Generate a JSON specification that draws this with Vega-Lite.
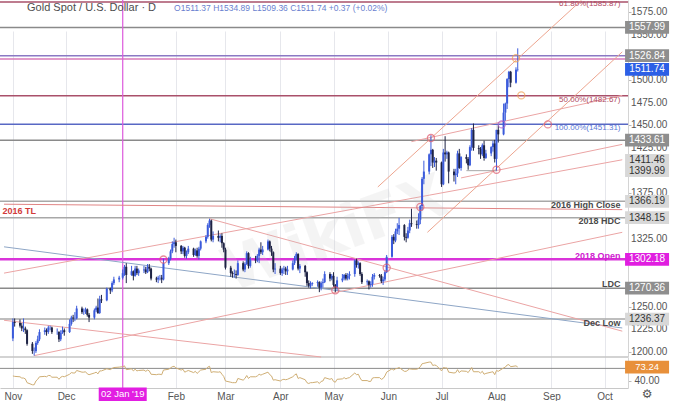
{
"$schema":"https://vega.github.io/schema/vega-lite/v6.json",
"width":628,"height":388,
"autosize":{"type":"none"},
"padding":{"left":0,"top":0,"right":52,"bottom":13},
"background":"white",
"config":{"view":{"stroke":null},"font":"Liberation Sans"},
"datasets":{
"ohlc":[
{"d":"2018-11-01","o":1215,"h":1237,"l":1212,"c":1233,"r":52},
{"d":"2018-11-02","o":1233,"h":1237,"l":1228,"c":1232,"r":51},
{"d":"2018-11-05","o":1232,"h":1236,"l":1227,"c":1229,"r":50},
{"d":"2018-11-06","o":1229,"h":1232,"l":1223,"c":1226,"r":47},
{"d":"2018-11-07","o":1226,"h":1237,"l":1222,"c":1226,"r":47},
{"d":"2018-11-08","o":1226,"h":1228,"l":1220,"c":1224,"r":45},
{"d":"2018-11-09","o":1224,"h":1225,"l":1207,"c":1209,"r":36},
{"d":"2018-11-12","o":1209,"h":1211,"l":1198,"c":1201,"r":31},
{"d":"2018-11-13","o":1201,"h":1205,"l":1196,"c":1201,"r":31},
{"d":"2018-11-14","o":1201,"h":1212,"l":1199,"c":1210,"r":40},
{"d":"2018-11-15","o":1210,"h":1218,"l":1208,"c":1214,"r":44},
{"d":"2018-11-16","o":1214,"h":1225,"l":1212,"c":1222,"r":50},
{"d":"2018-11-19","o":1222,"h":1227,"l":1219,"c":1224,"r":51},
{"d":"2018-11-20","o":1224,"h":1226,"l":1218,"c":1222,"r":50},
{"d":"2018-11-21","o":1222,"h":1229,"l":1220,"c":1227,"r":53},
{"d":"2018-11-22","o":1227,"h":1229,"l":1224,"c":1227,"r":53},
{"d":"2018-11-23","o":1227,"h":1228,"l":1220,"c":1222,"r":49},
{"d":"2018-11-26","o":1222,"h":1226,"l":1219,"c":1222,"r":49},
{"d":"2018-11-27","o":1222,"h":1223,"l":1211,"c":1214,"r":44},
{"d":"2018-11-28","o":1214,"h":1224,"l":1212,"c":1221,"r":49},
{"d":"2018-11-29","o":1221,"h":1228,"l":1220,"c":1224,"r":51},
{"d":"2018-11-30","o":1224,"h":1226,"l":1218,"c":1222,"r":50},
{"d":"2018-12-03","o":1222,"h":1236,"l":1221,"c":1231,"r":56},
{"d":"2018-12-04","o":1231,"h":1240,"l":1229,"c":1238,"r":60},
{"d":"2018-12-05","o":1238,"h":1241,"l":1233,"c":1237,"r":59},
{"d":"2018-12-06","o":1237,"h":1244,"l":1234,"c":1237,"r":59},
{"d":"2018-12-07","o":1237,"h":1251,"l":1236,"c":1248,"r":65},
{"d":"2018-12-10","o":1248,"h":1250,"l":1242,"c":1244,"r":61},
{"d":"2018-12-11","o":1244,"h":1248,"l":1241,"c":1244,"r":61},
{"d":"2018-12-12","o":1244,"h":1249,"l":1242,"c":1247,"r":62},
{"d":"2018-12-13","o":1247,"h":1248,"l":1239,"c":1241,"r":57},
{"d":"2018-12-14","o":1241,"h":1243,"l":1233,"c":1238,"r":55},
{"d":"2018-12-17","o":1238,"h":1248,"l":1236,"c":1246,"r":59},
{"d":"2018-12-18","o":1246,"h":1251,"l":1244,"c":1249,"r":61},
{"d":"2018-12-19","o":1249,"h":1259,"l":1242,"c":1243,"r":57},
{"d":"2018-12-20","o":1243,"h":1262,"l":1242,"c":1258,"r":64},
{"d":"2018-12-21","o":1258,"h":1263,"l":1254,"c":1257,"r":64},
{"d":"2018-12-24","o":1257,"h":1271,"l":1256,"c":1270,"r":69},
{"d":"2018-12-26","o":1270,"h":1271,"l":1264,"c":1268,"r":67},
{"d":"2018-12-27","o":1268,"h":1278,"l":1266,"c":1276,"r":70},
{"d":"2018-12-28","o":1276,"h":1283,"l":1274,"c":1280,"r":72},
{"d":"2018-12-31","o":1280,"h":1284,"l":1277,"c":1282,"r":73},
{"d":"2019-01-02","o":1282,"h":1291,"l":1280,"c":1287,"r":74},
{"d":"2019-01-03","o":1287,"h":1296,"l":1284,"c":1294,"r":76},
{"d":"2019-01-04","o":1294,"h":1298,"l":1276,"c":1285,"r":67},
{"d":"2019-01-07","o":1285,"h":1295,"l":1284,"c":1289,"r":69},
{"d":"2019-01-08","o":1289,"h":1290,"l":1279,"c":1284,"r":64},
{"d":"2019-01-09","o":1284,"h":1295,"l":1283,"c":1292,"r":68},
{"d":"2019-01-10","o":1292,"h":1295,"l":1285,"c":1287,"r":64},
{"d":"2019-01-11","o":1287,"h":1292,"l":1284,"c":1290,"r":65},
{"d":"2019-01-14","o":1290,"h":1295,"l":1287,"c":1291,"r":66},
{"d":"2019-01-15","o":1291,"h":1294,"l":1286,"c":1288,"r":63},
{"d":"2019-01-16","o":1288,"h":1297,"l":1287,"c":1294,"r":66},
{"d":"2019-01-17","o":1294,"h":1297,"l":1289,"c":1292,"r":64},
{"d":"2019-01-18","o":1292,"h":1293,"l":1279,"c":1281,"r":56},
{"d":"2019-01-21","o":1281,"h":1283,"l":1277,"c":1280,"r":55},
{"d":"2019-01-22","o":1280,"h":1284,"l":1276,"c":1282,"r":56},
{"d":"2019-01-23","o":1282,"h":1285,"l":1279,"c":1282,"r":56},
{"d":"2019-01-24","o":1282,"h":1285,"l":1276,"c":1280,"r":55},
{"d":"2019-01-25","o":1280,"h":1303,"l":1279,"c":1298,"r":66},
{"d":"2019-01-28","o":1298,"h":1305,"l":1296,"c":1303,"r":68},
{"d":"2019-01-29","o":1303,"h":1313,"l":1301,"c":1311,"r":71},
{"d":"2019-01-30","o":1311,"h":1322,"l":1309,"c":1319,"r":74},
{"d":"2019-01-31","o":1319,"h":1326,"l":1315,"c":1321,"r":75},
{"d":"2019-02-01","o":1321,"h":1324,"l":1310,"c":1317,"r":71},
{"d":"2019-02-04","o":1317,"h":1318,"l":1308,"c":1311,"r":66},
{"d":"2019-02-05","o":1311,"h":1317,"l":1308,"c":1315,"r":68},
{"d":"2019-02-06","o":1315,"h":1316,"l":1304,"c":1306,"r":61},
{"d":"2019-02-07","o":1306,"h":1312,"l":1303,"c":1310,"r":63},
{"d":"2019-02-08","o":1310,"h":1317,"l":1308,"c":1314,"r":65},
{"d":"2019-02-11","o":1314,"h":1315,"l":1305,"c":1307,"r":60},
{"d":"2019-02-12","o":1307,"h":1314,"l":1306,"c":1312,"r":63},
{"d":"2019-02-13","o":1312,"h":1315,"l":1304,"c":1306,"r":58},
{"d":"2019-02-14","o":1306,"h":1316,"l":1302,"c":1314,"r":62},
{"d":"2019-02-15","o":1314,"h":1323,"l":1312,"c":1322,"r":66},
{"d":"2019-02-18","o":1322,"h":1329,"l":1320,"c":1327,"r":68},
{"d":"2019-02-19","o":1327,"h":1342,"l":1325,"c":1340,"r":73},
{"d":"2019-02-20","o":1340,"h":1347,"l":1337,"c":1345,"r":75},
{"d":"2019-02-21","o":1345,"h":1346,"l":1322,"c":1324,"r":60},
{"d":"2019-02-22","o":1324,"h":1333,"l":1321,"c":1328,"r":62},
{"d":"2019-02-25","o":1328,"h":1334,"l":1322,"c":1326,"r":61},
{"d":"2019-02-26","o":1326,"h":1330,"l":1321,"c":1328,"r":62},
{"d":"2019-02-27","o":1328,"h":1331,"l":1315,"c":1320,"r":56},
{"d":"2019-02-28","o":1320,"h":1321,"l":1310,"c":1313,"r":51},
{"d":"2019-03-01","o":1313,"h":1315,"l":1291,"c":1293,"r":40},
{"d":"2019-03-04","o":1293,"h":1295,"l":1283,"c":1287,"r":37},
{"d":"2019-03-05","o":1287,"h":1289,"l":1282,"c":1286,"r":36},
{"d":"2019-03-06","o":1286,"h":1291,"l":1282,"c":1286,"r":36},
{"d":"2019-03-07","o":1286,"h":1290,"l":1281,"c":1285,"r":36},
{"d":"2019-03-08","o":1285,"h":1301,"l":1284,"c":1298,"r":46},
{"d":"2019-03-11","o":1298,"h":1300,"l":1289,"c":1291,"r":42},
{"d":"2019-03-12","o":1291,"h":1299,"l":1288,"c":1297,"r":46},
{"d":"2019-03-13","o":1297,"h":1311,"l":1296,"c":1309,"r":53},
{"d":"2019-03-14","o":1309,"h":1310,"l":1292,"c":1295,"r":46},
{"d":"2019-03-15","o":1295,"h":1305,"l":1293,"c":1302,"r":50},
{"d":"2019-03-18","o":1302,"h":1306,"l":1298,"c":1301,"r":50},
{"d":"2019-03-19","o":1301,"h":1308,"l":1299,"c":1306,"r":52},
{"d":"2019-03-20","o":1306,"h":1315,"l":1298,"c":1313,"r":56},
{"d":"2019-03-21","o":1313,"h":1321,"l":1308,"c":1310,"r":54},
{"d":"2019-03-22","o":1310,"h":1317,"l":1307,"c":1313,"r":56},
{"d":"2019-03-25","o":1313,"h":1324,"l":1312,"c":1322,"r":61},
{"d":"2019-03-26","o":1322,"h":1323,"l":1311,"c":1314,"r":55},
{"d":"2019-03-27","o":1314,"h":1317,"l":1306,"c":1310,"r":52},
{"d":"2019-03-28","o":1310,"h":1311,"l":1288,"c":1291,"r":42},
{"d":"2019-03-29","o":1291,"h":1298,"l":1286,"c":1292,"r":43},
{"d":"2019-04-01","o":1292,"h":1295,"l":1285,"c":1287,"r":40},
{"d":"2019-04-02","o":1287,"h":1293,"l":1284,"c":1291,"r":43},
{"d":"2019-04-03","o":1291,"h":1295,"l":1286,"c":1292,"r":44},
{"d":"2019-04-04","o":1292,"h":1294,"l":1285,"c":1289,"r":43},
{"d":"2019-04-05","o":1289,"h":1295,"l":1285,"c":1291,"r":44},
{"d":"2019-04-08","o":1291,"h":1301,"l":1290,"c":1298,"r":50},
{"d":"2019-04-09","o":1298,"h":1306,"l":1296,"c":1303,"r":54},
{"d":"2019-04-10","o":1303,"h":1310,"l":1301,"c":1308,"r":57},
{"d":"2019-04-11","o":1308,"h":1309,"l":1290,"c":1292,"r":46},
{"d":"2019-04-12","o":1292,"h":1297,"l":1287,"c":1295,"r":48},
{"d":"2019-04-15","o":1295,"h":1296,"l":1283,"c":1288,"r":43},
{"d":"2019-04-16","o":1288,"h":1289,"l":1273,"c":1276,"r":36},
{"d":"2019-04-17","o":1276,"h":1279,"l":1271,"c":1273,"r":34},
{"d":"2019-04-18","o":1273,"h":1278,"l":1270,"c":1275,"r":36},
{"d":"2019-04-19","o":1275,"h":1277,"l":1273,"c":1276,"r":36},
{"d":"2019-04-22","o":1276,"h":1279,"l":1272,"c":1277,"r":38},
{"d":"2019-04-23","o":1277,"h":1278,"l":1266,"c":1271,"r":34},
{"d":"2019-04-24","o":1271,"h":1278,"l":1268,"c":1276,"r":39},
{"d":"2019-04-25","o":1276,"h":1281,"l":1271,"c":1277,"r":40},
{"d":"2019-04-26","o":1277,"h":1289,"l":1276,"c":1286,"r":48},
{"d":"2019-04-29","o":1286,"h":1288,"l":1278,"c":1281,"r":44},
{"d":"2019-04-30","o":1281,"h":1286,"l":1279,"c":1284,"r":46},
{"d":"2019-05-01","o":1284,"h":1288,"l":1272,"c":1274,"r":39},
{"d":"2019-05-02","o":1274,"h":1275,"l":1266,"c":1271,"r":37},
{"d":"2019-05-03","o":1271,"h":1283,"l":1268,"c":1279,"r":44},
{"d":"2019-05-06","o":1279,"h":1286,"l":1277,"c":1281,"r":45},
{"d":"2019-05-07","o":1281,"h":1286,"l":1279,"c":1285,"r":48},
{"d":"2019-05-08","o":1285,"h":1287,"l":1279,"c":1281,"r":45},
{"d":"2019-05-09","o":1281,"h":1287,"l":1279,"c":1284,"r":47},
{"d":"2019-05-10","o":1284,"h":1289,"l":1280,"c":1286,"r":48},
{"d":"2019-05-13","o":1286,"h":1302,"l":1283,"c":1301,"r":59},
{"d":"2019-05-14","o":1301,"h":1303,"l":1293,"c":1296,"r":55},
{"d":"2019-05-15","o":1296,"h":1300,"l":1292,"c":1298,"r":56},
{"d":"2019-05-16","o":1298,"h":1299,"l":1284,"c":1286,"r":47},
{"d":"2019-05-17","o":1286,"h":1288,"l":1275,"c":1277,"r":41},
{"d":"2019-05-20","o":1277,"h":1280,"l":1274,"c":1278,"r":41},
{"d":"2019-05-21","o":1278,"h":1279,"l":1269,"c":1274,"r":39},
{"d":"2019-05-22","o":1274,"h":1278,"l":1271,"c":1275,"r":39},
{"d":"2019-05-23","o":1275,"h":1286,"l":1272,"c":1283,"r":47},
{"d":"2019-05-24","o":1283,"h":1287,"l":1280,"c":1285,"r":48},
{"d":"2019-05-27","o":1285,"h":1286,"l":1282,"c":1284,"r":48},
{"d":"2019-05-28","o":1284,"h":1286,"l":1276,"c":1278,"r":44},
{"d":"2019-05-29","o":1278,"h":1283,"l":1274,"c":1280,"r":46},
{"d":"2019-05-30","o":1280,"h":1290,"l":1278,"c":1288,"r":52},
{"d":"2019-05-31","o":1288,"h":1307,"l":1287,"c":1305,"r":61},
{"d":"2019-06-03","o":1305,"h":1329,"l":1304,"c":1327,"r":69},
{"d":"2019-06-04","o":1327,"h":1330,"l":1319,"c":1323,"r":66},
{"d":"2019-06-05","o":1323,"h":1336,"l":1321,"c":1333,"r":69},
{"d":"2019-06-06","o":1333,"h":1342,"l":1330,"c":1336,"r":70},
{"d":"2019-06-07","o":1336,"h":1348,"l":1329,"c":1340,"r":72},
{"d":"2019-06-10","o":1340,"h":1341,"l":1323,"c":1327,"r":63},
{"d":"2019-06-11","o":1327,"h":1331,"l":1321,"c":1326,"r":63},
{"d":"2019-06-12","o":1326,"h":1338,"l":1325,"c":1334,"r":66},
{"d":"2019-06-13","o":1334,"h":1346,"l":1331,"c":1342,"r":69},
{"d":"2019-06-14","o":1342,"h":1358,"l":1338,"c":1341,"r":68},
{"d":"2019-06-17","o":1341,"h":1345,"l":1336,"c":1340,"r":68},
{"d":"2019-06-18","o":1340,"h":1353,"l":1336,"c":1346,"r":70},
{"d":"2019-06-19","o":1346,"h":1362,"l":1341,"c":1361,"r":74},
{"d":"2019-06-20","o":1361,"h":1393,"l":1356,"c":1391,"r":81},
{"d":"2019-06-21","o":1391,"h":1411,"l":1385,"c":1399,"r":82},
{"d":"2019-06-24","o":1399,"h":1419,"l":1396,"c":1418,"r":85},
{"d":"2019-06-25","o":1418,"h":1439,"l":1405,"c":1423,"r":85},
{"d":"2019-06-26","o":1423,"h":1424,"l":1403,"c":1409,"r":77},
{"d":"2019-06-27","o":1409,"h":1415,"l":1404,"c":1411,"r":78},
{"d":"2019-06-28","o":1411,"h":1414,"l":1400,"c":1409,"r":77},
{"d":"2019-07-01","o":1409,"h":1410,"l":1382,"c":1385,"r":64},
{"d":"2019-07-02","o":1385,"h":1424,"l":1384,"c":1420,"r":72},
{"d":"2019-07-03","o":1420,"h":1438,"l":1410,"c":1418,"r":71},
{"d":"2019-07-04","o":1418,"h":1422,"l":1413,"c":1420,"r":71},
{"d":"2019-07-05","o":1420,"h":1421,"l":1386,"c":1399,"r":61},
{"d":"2019-07-08","o":1399,"h":1402,"l":1388,"c":1395,"r":59},
{"d":"2019-07-09","o":1395,"h":1402,"l":1385,"c":1397,"r":60},
{"d":"2019-07-10","o":1397,"h":1422,"l":1393,"c":1419,"r":67},
{"d":"2019-07-11","o":1419,"h":1424,"l":1402,"c":1403,"r":60},
{"d":"2019-07-12","o":1403,"h":1416,"l":1400,"c":1415,"r":64},
{"d":"2019-07-15","o":1415,"h":1418,"l":1408,"c":1413,"r":63},
{"d":"2019-07-16","o":1413,"h":1415,"l":1401,"c":1406,"r":60},
{"d":"2019-07-17","o":1406,"h":1428,"l":1405,"c":1426,"r":66},
{"d":"2019-07-18","o":1426,"h":1447,"l":1422,"c":1445,"r":72},
{"d":"2019-07-19","o":1445,"h":1452,"l":1422,"c":1425,"r":62},
{"d":"2019-07-22","o":1425,"h":1428,"l":1418,"c":1424,"r":62},
{"d":"2019-07-23","o":1424,"h":1426,"l":1413,"c":1418,"r":59},
{"d":"2019-07-24","o":1418,"h":1430,"l":1416,"c":1428,"r":63},
{"d":"2019-07-25","o":1428,"h":1433,"l":1411,"c":1414,"r":56},
{"d":"2019-07-26","o":1414,"h":1423,"l":1413,"c":1419,"r":58},
{"d":"2019-07-29","o":1419,"h":1427,"l":1416,"c":1426,"r":61},
{"d":"2019-07-30","o":1426,"h":1433,"l":1421,"c":1430,"r":62},
{"d":"2019-07-31","o":1430,"h":1434,"l":1409,"c":1413,"r":55},
{"d":"2019-08-01","o":1413,"h":1445,"l":1400,"c":1445,"r":65},
{"d":"2019-08-02","o":1445,"h":1450,"l":1431,"c":1440,"r":63},
{"d":"2019-08-05","o":1440,"h":1474,"l":1439,"c":1464,"r":71},
{"d":"2019-08-06","o":1464,"h":1475,"l":1455,"c":1474,"r":73},
{"d":"2019-08-07","o":1474,"h":1502,"l":1468,"c":1501,"r":78},
{"d":"2019-08-08","o":1501,"h":1510,"l":1492,"c":1509,"r":79},
{"d":"2019-08-09","o":1509,"h":1510,"l":1492,"c":1497,"r":74},
{"d":"2019-08-12","o":1497,"h":1514,"l":1496,"c":1511.37,"r":76},
{"d":"2019-08-13","o":1511.37,"h":1534.89,"l":1509.36,"c":1511.74,"r":73.24}
]
},
"layer":[
{
"resolve":{"scale":{"color":"independent","fill":"independent","stroke":"independent","size":"independent"}},
"layer":[
{"data":{"values":[
{"p":1585.87,"k":"fib"},{"p":1557.99,"k":"level"},{"p":1526.84,"k":"purple"},{"p":1523,"k":"pink"},
{"p":1482.67,"k":"fib"},{"p":1451.31,"k":"blue"},{"p":1433.61,"k":"level"},{"p":1366.19,"k":"minor"},
{"p":1348.15,"k":"minor"},{"p":1270.36,"k":"level"},{"p":1236.37,"k":"minor"},{"p":1194.5,"k":"border"}]},
"mark":{"type":"rule","strokeWidth":1.5},
"encoding":{
"y":{"field":"p","type":"quantitative","title":null,"scale":{"domain":[1194.5,1588.2],"range":[357,0],"zero":false,"nice":false},
"axis":{"orient":"right","values":[1200,1225,1250,1325,1375,1425,1450,1475,1500,1550,1575],"labels":false,"grid":false,"ticks":true,"tickSize":3,"tickColor":"#bbbbbb","domainColor":"#d4d4d4","title":null}},
"color":{"field":"k","type":"nominal","legend":null,"scale":{"domain":["fib","level","purple","pink","blue","minor","border"],"range":["#a9506a","#8a8a8a","#8b79c4","#d77ab8","#5868c4","#a8a8a8","#c4c4c4"]}}
}},
{"data":{"values":[{"p":1302.18}]},
"mark":{"type":"rule","strokeWidth":2.5,"color":"#d934d9"},
"encoding":{"y":{"field":"p","type":"quantitative","title":null,"scale":{"domain":[1194.5,1588.2],"range":[357,0],"zero":false,"nice":false}}}},
{"data":{"values":[{"d":"2019-01-02"}]},
"mark":{"type":"rule","strokeWidth":1.2,"color":"#dc5adc"},
"encoding":{"x":{"field":"d","type":"temporal","title":null,"scale":{"type":"utc","domain":[{"year":2018,"month":10,"date":27,"hours":13,"utc":true},{"year":2019,"month":10,"date":11,"hours":10,"utc":true}]},
"axis":{"values":[{"year":2018,"month":11,"date":1,"utc":true},{"year":2018,"month":12,"date":1,"utc":true},{"year":2019,"month":2,"date":1,"utc":true},{"year":2019,"month":3,"date":1,"utc":true},{"year":2019,"month":4,"date":1,"utc":true},{"year":2019,"month":5,"date":1,"utc":true},{"year":2019,"month":6,"date":1,"utc":true},{"year":2019,"month":7,"date":1,"utc":true},{"year":2019,"month":8,"date":1,"utc":true},{"year":2019,"month":9,"date":1,"utc":true},{"year":2019,"month":10,"date":1,"utc":true}],
"format":"%b","labelFontSize":10,"labelColor":"#555555","grid":true,"gridColor":"#e6e7ec","ticks":false,"domain":true,"domainColor":"#c8c8c8","labelPadding":3,"labelOverlap":false,"labelFlush":false,"title":null}}}},
{"data":{"values":[
{"d1":"2018-10-27","p1":1316,"d2":"2019-10-11","p2":1226.5,"k":"steel"},
{"d1":"2019-02-20","p1":1347,"d2":"2019-10-11","p2":1223,"k":"pink"},
{"d1":"2018-10-27","p1":1235,"d2":"2019-04-24","p2":1194.5,"k":"pink"},
{"d1":"2018-11-13","p1":1196,"d2":"2019-10-11","p2":1332,"k":"pink"},
{"d1":"2018-10-27","p1":1287,"d2":"2019-10-11","p2":1412,"k":"pink"},
{"d1":"2019-06-14","p1":1432,"d2":"2019-10-11","p2":1483,"k":"pink"},
{"d1":"2019-07-12","p1":1392,"d2":"2019-10-11","p2":1429,"k":"pink"},
{"d1":"2019-05-26","p1":1382,"d2":"2019-09-18","p2":1588,"k":"orange"},
{"d1":"2019-06-23","p1":1332,"d2":"2019-10-11","p2":1531,"k":"orange"},
{"d1":"2018-10-27","p1":1363,"d2":"2019-10-11","p2":1357,"k":"tl"},
{"d1":"2019-07-15","p1":1400,"d2":"2019-08-01","p2":1400,"k":"level"}],
"format":{"parse":{"d1":"date","d2":"date"}}},
"mark":{"type":"rule","strokeWidth":1,"clip":true},
"encoding":{
"x":{"field":"d1","type":"temporal","title":null,"scale":{"type":"utc","domain":[{"year":2018,"month":10,"date":27,"hours":13,"utc":true},{"year":2019,"month":10,"date":11,"hours":10,"utc":true}]}},
"x2":{"field":"d2"},
"y":{"field":"p1","type":"quantitative","title":null,"scale":{"domain":[1194.5,1588.2],"range":[357,0],"zero":false,"nice":false}},
"y2":{"field":"p2"},
"color":{"field":"k","type":"nominal","legend":null,"scale":{"domain":["steel","pink","orange","tl","level"],"range":["#8ea6c6","#eba4a4","#eda58f","#e08585","#a8a8a8"]}}
}},
{"data":{"values":[{"d":"2019-05-02","p":1329,"t":"WikiFX"}]},
"mark":{"type":"text","fontSize":60,"fontWeight":"bold","angle":340,"color":"#c8c8c8","opacity":0.18,"font":"DejaVu Sans"},
"encoding":{
"x":{"field":"d","type":"temporal","title":null,"scale":{"type":"utc","domain":[{"year":2018,"month":10,"date":27,"hours":13,"utc":true},{"year":2019,"month":10,"date":11,"hours":10,"utc":true}]}},
"y":{"field":"p","type":"quantitative","title":null,"scale":{"domain":[1194.5,1588.2],"range":[357,0],"zero":false,"nice":false}},
"text":{"field":"t"}}},
{"data":{"name":"ohlc"},
"mark":{"type":"rule","strokeWidth":1},
"encoding":{
"x":{"field":"d","type":"temporal","title":null,"scale":{"type":"utc","domain":[{"year":2018,"month":10,"date":27,"hours":13,"utc":true},{"year":2019,"month":10,"date":11,"hours":10,"utc":true}]}},
"y":{"field":"l","type":"quantitative","title":null,"scale":{"domain":[1194.5,1588.2],"range":[357,0],"zero":false,"nice":false}},
"y2":{"field":"h"},
"color":{"condition":{"test":"datum.c >= datum.o","value":"#3b5bdb"},"value":"#1e2344"}}},
{"data":{"name":"ohlc"},
"mark":{"type":"bar","width":2},
"encoding":{
"x":{"field":"d","type":"temporal","title":null,"scale":{"type":"utc","domain":[{"year":2018,"month":10,"date":27,"hours":13,"utc":true},{"year":2019,"month":10,"date":11,"hours":10,"utc":true}]}},
"y":{"field":"o","type":"quantitative","title":null,"scale":{"domain":[1194.5,1588.2],"range":[357,0],"zero":false,"nice":false}},
"y2":{"field":"c"},
"color":{"condition":{"test":"datum.c >= datum.o","value":"#3b5bdb"},"value":"#1e2344"}}},
{"data":{"values":[
{"d":"2019-01-25","p":1302,"k":"red"},{"d":"2019-05-02","p":1268,"k":"red"},{"d":"2019-05-31","p":1293,"k":"red"},
{"d":"2019-06-19","p":1360,"k":"red"},{"d":"2019-06-25","p":1436,"k":"red"},{"d":"2019-08-01","p":1401,"k":"red"},
{"d":"2019-08-04","p":1451,"k":"purple"},{"d":"2019-08-12","p":1524,"k":"orange"},{"d":"2019-08-30","p":1451,"k":"red"},
{"d":"2019-08-15","p":1483,"k":"orange"}]},
"mark":{"type":"point","shape":"circle","filled":false,"size":50,"strokeWidth":1.3},
"encoding":{
"x":{"field":"d","type":"temporal","title":null,"scale":{"type":"utc","domain":[{"year":2018,"month":10,"date":27,"hours":13,"utc":true},{"year":2019,"month":10,"date":11,"hours":10,"utc":true}]}},
"y":{"field":"p","type":"quantitative","title":null,"scale":{"domain":[1194.5,1588.2],"range":[357,0],"zero":false,"nice":false}},
"stroke":{"field":"k","type":"nominal","legend":null,"scale":{"domain":["red","purple","orange"],"range":["#e05a6e","#b05cc8","#f0a050"]}}}},
{"data":{"values":[
{"d":"2019-10-10","p":1583.8,"t":"61.80%(1585.87)","k":"fib"},
{"d":"2019-10-10","p":1477.9,"t":"50.00%(1482.67)","k":"fib"},
{"d":"2019-10-10","p":1447.0,"t":"100.00%(1451.31)","k":"blue"}]},
"mark":{"type":"text","align":"right","fontSize":8},
"encoding":{
"x":{"field":"d","type":"temporal","title":null,"scale":{"type":"utc","domain":[{"year":2018,"month":10,"date":27,"hours":13,"utc":true},{"year":2019,"month":10,"date":11,"hours":10,"utc":true}]}},
"y":{"field":"p","type":"quantitative","title":null,"scale":{"domain":[1194.5,1588.2],"range":[357,0],"zero":false,"nice":false}},
"text":{"field":"t"},
"color":{"field":"k","type":"nominal","legend":null,"scale":{"domain":["fib","blue"],"range":["#b04a62","#5a78d6"]}}}},
{"data":{"values":[
{"d":"2019-10-10","p":1362.1,"t":"2016 High Close","k":"level"},
{"d":"2019-10-10","p":1344.5,"t":"2018 HDC","k":"level"},
{"d":"2019-10-10","p":1305.9,"t":"2018 Open","k":"open"},
{"d":"2019-10-10","p":1275.0,"t":"LDC","k":"level"},
{"d":"2019-10-10","p":1232.0,"t":"Dec Low","k":"level"},
{"d":"2018-11-14","p":1355.5,"t":"2016 TL","k":"tl"}]},
"mark":{"type":"text","align":"right","fontSize":9,"fontWeight":"bold"},
"encoding":{
"x":{"field":"d","type":"temporal","title":null,"scale":{"type":"utc","domain":[{"year":2018,"month":10,"date":27,"hours":13,"utc":true},{"year":2019,"month":10,"date":11,"hours":10,"utc":true}]}},
"y":{"field":"p","type":"quantitative","title":null,"scale":{"domain":[1194.5,1588.2],"range":[357,0],"zero":false,"nice":false}},
"text":{"field":"t"},
"align":{"condition":{"test":"datum.k == 'tl'","value":"left"},"value":"right"},
"color":{"field":"k","type":"nominal","legend":null,"scale":{"domain":["level","open","tl"],"range":["#4a4a4a","#d020d0","#d23a3a"]}}}},
{"data":{"values":[
{"d":"2018-11-09","p":1579.4,"t":"Gold Spot / U.S. Dollar · D","k":"title"},
{"d":"2019-01-31","p":1579.4,"t":"O1511.37  H1534.89  L1509.36  C1511.74  +0.37 (+0.02%)","k":"ohlc"}]},
"mark":{"type":"text","align":"left"},
"encoding":{
"x":{"field":"d","type":"temporal","title":null,"scale":{"type":"utc","domain":[{"year":2018,"month":10,"date":27,"hours":13,"utc":true},{"year":2019,"month":10,"date":11,"hours":10,"utc":true}]}},
"y":{"field":"p","type":"quantitative","title":null,"scale":{"domain":[1194.5,1588.2],"range":[357,0],"zero":false,"nice":false}},
"text":{"field":"t"},
"size":{"field":"k","type":"nominal","legend":null,"scale":{"domain":["title","ohlc"],"range":[11,8.5]}},
"color":{"field":"k","type":"nominal","legend":null,"scale":{"domain":["title","ohlc"],"range":["#4d4d4d","#6a7fcf"]}}}},
{"data":{"values":[
{"d":"2019-10-16","p":1200},{"d":"2019-10-16","p":1225},{"d":"2019-10-16","p":1250},{"d":"2019-10-16","p":1325},
{"d":"2019-10-16","p":1375},{"d":"2019-10-16","p":1425},{"d":"2019-10-16","p":1450},{"d":"2019-10-16","p":1475},
{"d":"2019-10-16","p":1500},{"d":"2019-10-16","p":1550},{"d":"2019-10-16","p":1575}]},
"mark":{"type":"text","align":"left","fontSize":10,"color":"#555555"},
"encoding":{
"x":{"field":"d","type":"temporal","title":null,"scale":{"type":"utc","domain":[{"year":2018,"month":10,"date":27,"hours":13,"utc":true},{"year":2019,"month":10,"date":11,"hours":10,"utc":true}]}},
"y":{"field":"p","type":"quantitative","title":null,"scale":{"domain":[1194.5,1588.2],"range":[357,0],"zero":false,"nice":false}},
"text":{"field":"p","type":"quantitative","format":".2f"}}},
{"data":{"values":[
{"d":"2019-10-25","p":1557.99,"k":"level"},{"d":"2019-10-25","p":1526.84,"k":"level"},{"d":"2019-10-25","p":1511.74,"k":"last"},
{"d":"2019-10-25","p":1433.61,"k":"level"},{"d":"2019-10-25","p":1411.46,"k":"minor"},{"d":"2019-10-25","p":1399.99,"k":"minor"},
{"d":"2019-10-25","p":1366.19,"k":"minor"},{"d":"2019-10-25","p":1348.15,"k":"minor"},{"d":"2019-10-25","p":1302.18,"k":"open"},
{"d":"2019-10-25","p":1270.36,"k":"level"},{"d":"2019-10-25","p":1236.37,"k":"minor"}]},
"layer":[
{"mark":{"type":"point","shape":"M-1,-0.29L1,-0.29L1,0.29L-1,0.29Z","size":1936,"filled":true,"opacity":1,"strokeWidth":0},
"encoding":{
"x":{"field":"d","type":"temporal","title":null,"scale":{"type":"utc","domain":[{"year":2018,"month":10,"date":27,"hours":13,"utc":true},{"year":2019,"month":10,"date":11,"hours":10,"utc":true}]}},
"y":{"field":"p","type":"quantitative","title":null,"scale":{"domain":[1194.5,1588.2],"range":[357,0],"zero":false,"nice":false}},
"fill":{"field":"k","type":"nominal","legend":null,"scale":{"domain":["level","last","minor","open"],"range":["#8e8e8e","#2c5fe6","#d8d8d8","#e01ee0"]}}}},
{"mark":{"type":"text","fontSize":10},
"encoding":{
"x":{"field":"d","type":"temporal","title":null,"scale":{"type":"utc","domain":[{"year":2018,"month":10,"date":27,"hours":13,"utc":true},{"year":2019,"month":10,"date":11,"hours":10,"utc":true}]}},
"y":{"field":"p","type":"quantitative","title":null,"scale":{"domain":[1194.5,1588.2],"range":[357,0],"zero":false,"nice":false}},
"text":{"field":"p","type":"quantitative","format":".2f"},
"color":{"field":"k","type":"nominal","legend":null,"scale":{"domain":["level","last","minor","open"],"range":["#ffffff","#ffffff","#333333","#ffffff"]}}}}
],
"resolve":{"scale":{"color":"independent","fill":"independent"}}}
]
},
{
"resolve":{"scale":{"color":"independent","fill":"independent","size":"independent"}},
"layer":[
{"data":{"values":[{"v":70}]},
"mark":{"type":"rule","strokeWidth":1,"color":"#8a8a8a"},
"encoding":{"y":{"field":"v","type":"quantitative","title":null,"scale":{"domain":[23.3,97.1],"range":[388,357],"zero":false,"nice":false},
"axis":{"orient":"right","values":[40],"format":".2f","labelFontSize":10,"labelColor":"#555555","grid":false,"ticks":true,"tickSize":3,"tickColor":"#bbbbbb","domainColor":"#d4d4d4","labelPadding":3,"title":null}}}},
{"data":{"name":"ohlc"},
"mark":{"type":"line","strokeWidth":1,"color":"#cfae74"},
"encoding":{
"x":{"field":"d","type":"temporal","title":null,"scale":{"type":"utc","domain":[{"year":2018,"month":10,"date":27,"hours":13,"utc":true},{"year":2019,"month":10,"date":11,"hours":10,"utc":true}]}},
"y":{"field":"r","type":"quantitative","title":null,"scale":{"domain":[23.3,97.1],"range":[388,357],"zero":false,"nice":false}}}},
{"data":{"values":[{"d":"2019-10-25","r":73.24,"t":"73.24","k":"rsi"},{"d":"2019-01-02","r":7.9,"t":"02 Jan '19","k":"date"}]},
"layer":[
{"mark":{"type":"point","shape":"M-1,-0.29L1,-0.29L1,0.29L-1,0.29Z","filled":true,"opacity":1,"strokeWidth":0},
"encoding":{
"x":{"field":"d","type":"temporal","title":null,"scale":{"type":"utc","domain":[{"year":2018,"month":10,"date":27,"hours":13,"utc":true},{"year":2019,"month":10,"date":11,"hours":10,"utc":true}]}},
"y":{"field":"r","type":"quantitative","title":null,"scale":{"domain":[23.3,97.1],"range":[388,357],"zero":false,"nice":false}},
"size":{"field":"k","type":"nominal","legend":null,"scale":{"domain":["rsi","date"],"range":[1936,2304]}},
"fill":{"field":"k","type":"nominal","legend":null,"scale":{"domain":["rsi","date"],"range":["#e8903a","#e21ee2"]}}}},
{"mark":{"type":"text","fontSize":9.5,"color":"#ffffff"},
"encoding":{
"x":{"field":"d","type":"temporal","title":null,"scale":{"type":"utc","domain":[{"year":2018,"month":10,"date":27,"hours":13,"utc":true},{"year":2019,"month":10,"date":11,"hours":10,"utc":true}]}},
"y":{"field":"r","type":"quantitative","title":null,"scale":{"domain":[23.3,97.1],"range":[388,357],"zero":false,"nice":false}},
"text":{"field":"t"}}}
]},
{"data":{"values":[{"d":"2019-10-25","r":7.9,"t":"⚙"}]},
"mark":{"type":"text","fontSize":12,"color":"#555555","font":"DejaVu Sans"},
"encoding":{
"x":{"field":"d","type":"temporal","title":null,"scale":{"type":"utc","domain":[{"year":2018,"month":10,"date":27,"hours":13,"utc":true},{"year":2019,"month":10,"date":11,"hours":10,"utc":true}]}},
"y":{"field":"r","type":"quantitative","title":null,"scale":{"domain":[23.3,97.1],"range":[388,357],"zero":false,"nice":false}},
"text":{"field":"t"}}}
]
}
],
"resolve":{"scale":{"y":"independent","color":"independent","fill":"independent","stroke":"independent","size":"independent"},"axis":{"y":"independent"}}
}
